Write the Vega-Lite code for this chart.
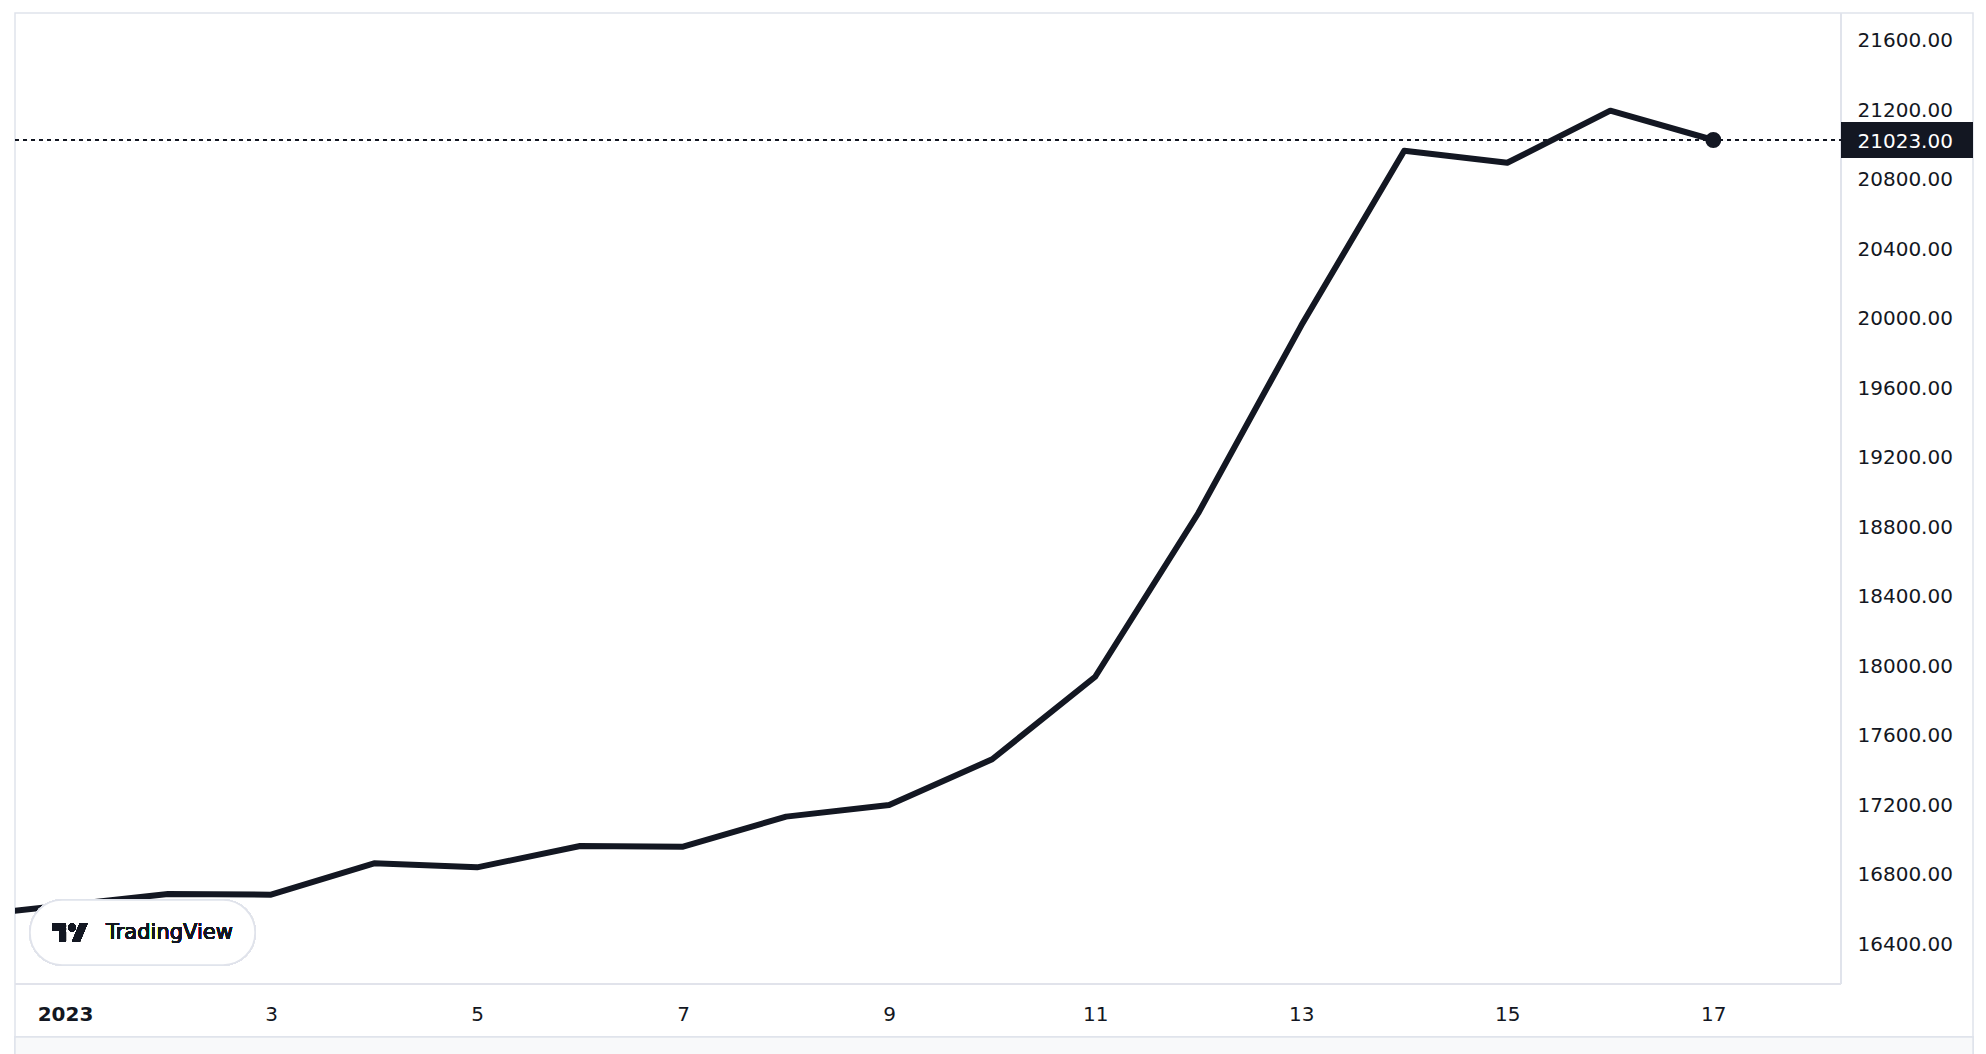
{
  "$schema": "https://vega.github.io/schema/vega-lite/v6.json",
  "autosize": {"type": "none"},
  "padding": {"left": 15, "top": 13, "right": 13, "bottom": 17},
  "width": 1958,
  "height": 1024,
  "background": "#ffffff",
  "config": {
    "view": {"stroke": "#e0e3eb", "strokeWidth": 1.5},
    "font": "DejaVu Sans"
  },
  "data": {
    "values": [
      {"date": "2022-12-31", "price": 16554},
      {"date": "2023-01-01", "price": 16619},
      {"date": "2023-01-02", "price": 16684},
      {"date": "2023-01-03", "price": 16680},
      {"date": "2023-01-04", "price": 16860},
      {"date": "2023-01-05", "price": 16837},
      {"date": "2023-01-06", "price": 16960},
      {"date": "2023-01-07", "price": 16956},
      {"date": "2023-01-08", "price": 17129},
      {"date": "2023-01-09", "price": 17196},
      {"date": "2023-01-10", "price": 17459},
      {"date": "2023-01-11", "price": 17934},
      {"date": "2023-01-12", "price": 18875},
      {"date": "2023-01-13", "price": 19955},
      {"date": "2023-01-14", "price": 20961},
      {"date": "2023-01-15", "price": 20892},
      {"date": "2023-01-16", "price": 21192},
      {"date": "2023-01-17", "price": 21023}
    ]
  },
  "layer": [
    {
      "mark": {"type": "line", "color": "#131722", "strokeWidth": 6, "clip": true, "strokeJoin": "round", "strokeCap": "round"},
      "encoding": {
        "x": {
          "field": "date", "type": "temporal", "title": null,
          "scale": {"type": "utc", "domain": [{"year": 2022, "month": 12, "date": 31, "hours": 12, "minutes": 21, "utc": true}, {"year": 2023, "month": 1, "date": 19, "hours": 12, "minutes": 30, "utc": true}]},
          "axis": {
            "orient": "bottom", "offset": -53, "title": null, "domain": false, "ticks": false, "tickSize": 0, "grid": false,
            "labelPadding": 30, "labelBaseline": "middle", "labelAlign": "center", "labelFontSize": 20, "labelColor": "#131722", "labelFont": "DejaVu Sans",
            "labelOverlap": false, "labelFlush": false, "zindex": 1,
            "values": [
              {"year": 2023, "month": 1, "date": 1, "utc": true},
              {"year": 2023, "month": 1, "date": 3, "utc": true},
              {"year": 2023, "month": 1, "date": 5, "utc": true},
              {"year": 2023, "month": 1, "date": 7, "utc": true},
              {"year": 2023, "month": 1, "date": 9, "utc": true},
              {"year": 2023, "month": 1, "date": 11, "utc": true},
              {"year": 2023, "month": 1, "date": 13, "utc": true},
              {"year": 2023, "month": 1, "date": 15, "utc": true},
              {"year": 2023, "month": 1, "date": 17, "utc": true}
            ],
            "labelExpr": "utcdate(datum.value) == 1 ? '2023' : '' + utcdate(datum.value)",
            "labelFontWeight": {"condition": {"test": "utcdate(datum.value) == 1", "value": "bold"}, "value": "normal"}
          }
        },
        "y": {
          "field": "price", "type": "quantitative", "title": null,
          "scale": {"domain": [15860.7, 21753.9], "nice": false, "zero": false},
          "axis": {
            "orient": "right", "offset": -132, "title": null, "domain": false, "ticks": false, "tickSize": 0, "grid": false,
            "labelPadding": 16, "labelAlign": "left", "labelBaseline": "middle", "labelFontSize": 20, "labelFont": "DejaVu Sans",
            "labelOffset": 1,
            "labelOverlap": false, "zindex": 1, "format": ".2f",
            "values": [16400, 16800, 17200, 17600, 18000, 18400, 18800, 19200, 19600, 20000, 20400, 20800, 21200, 21600, 21023],
            "labelColor": {"condition": {"test": "datum.value == 21023", "value": "#ffffff"}, "value": "#131722"}
          }
        }
      }
    },
    {
      "mark": {"type": "rect", "fill": "#f8f9fa", "stroke": "#e0e3eb", "strokeWidth": 1.5},
      "encoding": {
        "x": {"datum": {"year": 2022, "month": 12, "date": 31, "hours": 12, "minutes": 21, "utc": true}, "type": "temporal", "title": null},
        "x2": {"datum": {"year": 2023, "month": 1, "date": 19, "hours": 12, "minutes": 30, "utc": true}},
        "y": {"datum": 15860.7, "type": "quantitative", "title": null},
        "y2": {"datum": 15600}
      }
    },
    {
      "mark": {"type": "rule", "color": "#e0e3eb", "strokeWidth": 1.5},
      "encoding": {
        "x": {"datum": {"year": 2023, "month": 1, "date": 18, "hours": 5, "minutes": 45, "utc": true}, "type": "temporal", "title": null},
        "y": {"datum": 21753.9, "type": "quantitative", "title": null},
        "y2": {"datum": 16165.7}
      }
    },
    {
      "mark": {"type": "rule", "color": "#e0e3eb", "strokeWidth": 1.5},
      "encoding": {
        "x": {"datum": {"year": 2022, "month": 12, "date": 31, "hours": 12, "minutes": 21, "utc": true}, "type": "temporal", "title": null},
        "x2": {"datum": {"year": 2023, "month": 1, "date": 18, "hours": 5, "minutes": 45, "utc": true}},
        "y": {"datum": 16165.7, "type": "quantitative", "title": null}
      }
    },
    {
      "mark": {"type": "rule", "color": "#131722", "strokeWidth": 2, "strokeDash": [4, 4]},
      "encoding": {
        "x": {"datum": {"year": 2022, "month": 12, "date": 31, "hours": 12, "minutes": 21, "utc": true}, "type": "temporal", "title": null},
        "x2": {"datum": {"year": 2023, "month": 1, "date": 18, "hours": 5, "minutes": 45, "utc": true}},
        "y": {"datum": 21023, "type": "quantitative", "title": null}
      }
    },
    {
      "transform": [{"filter": "datum.price == 21023"}],
      "mark": {"type": "point", "filled": true, "color": "#131722", "opacity": 1, "size": 254},
      "encoding": {
        "x": {"field": "date", "type": "temporal", "title": null},
        "y": {"field": "price", "type": "quantitative", "title": null}
      }
    },
    {
      "mark": {"type": "rect", "color": "#131722"},
      "encoding": {
        "x": {"datum": {"year": 2023, "month": 1, "date": 18, "hours": 5, "minutes": 45, "utc": true}, "type": "temporal", "title": null},
        "x2": {"datum": {"year": 2023, "month": 1, "date": 19, "hours": 12, "minutes": 30, "utc": true}},
        "y": {"datum": 20919.4, "type": "quantitative", "title": null},
        "y2": {"datum": 21126.6}
      }
    },
    {
      "mark": {"type": "rect", "fill": "#ffffff", "stroke": "#e0e3eb", "strokeWidth": 1.5, "cornerRadius": 32},
      "encoding": {
        "x": {"datum": {"year": 2022, "month": 12, "date": 31, "hours": 15, "minutes": 51, "utc": true}, "type": "temporal", "title": null},
        "x2": {"datum": {"year": 2023, "month": 1, "date": 2, "hours": 20, "minutes": 16, "utc": true}},
        "y": {"datum": 16649.2, "type": "quantitative", "title": null},
        "y2": {"datum": 16275}
      }
    },
    {
      "mark": {"type": "point", "filled": true, "color": "#131722", "opacity": 1, "size": 1296, "strokeWidth": 0,
        "shape": "M-0.222,0.5 L-0.611,0.5 L-0.611,-0.111 L-1,-0.111 L-1,-0.5 L-0.222,-0.5 Z M0.556,0.5 L0.111,0.5 L0.528,-0.5 L0.972,-0.5 Z M-0.111,-0.278 A0.222,0.222 0 1,0 0.333,-0.278 A0.222,0.222 0 1,0 -0.111,-0.278 Z"},
      "encoding": {
        "x": {"datum": {"year": 2023, "month": 1, "date": 1, "hours": 1, "minutes": 10, "utc": true}, "type": "temporal", "title": null},
        "y": {"datum": 16462, "type": "quantitative", "title": null}
      }
    },
    {
      "mark": {"type": "text", "text": "TradingView", "align": "left", "baseline": "middle", "fontSize": 21, "font": "DejaVu Sans", "fontWeight": 400, "color": "#131722"},
      "encoding": {
        "x": {"datum": {"year": 2023, "month": 1, "date": 1, "hours": 9, "minutes": 33, "utc": true}, "type": "temporal", "title": null},
        "y": {"datum": 16462, "type": "quantitative", "title": null}
      }
    }
  ]
}
